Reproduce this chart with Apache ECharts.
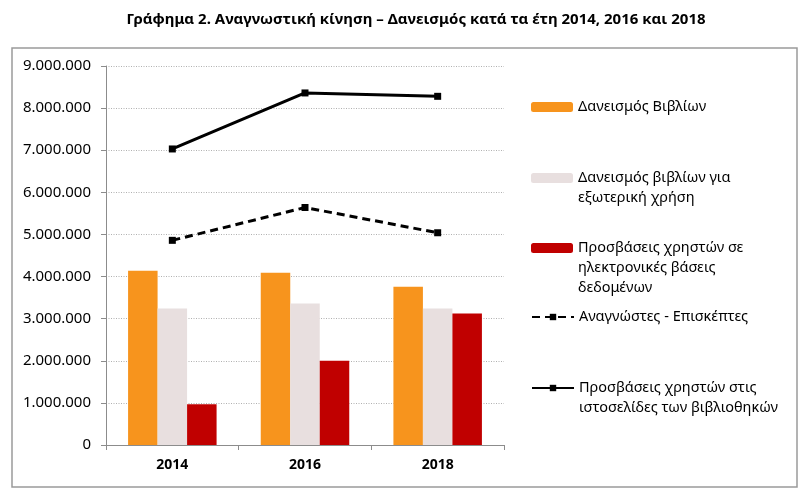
<!DOCTYPE html>
<html>
<head>
<meta charset="utf-8">
<script src="https://cdn.jsdelivr.net/npm/echarts@6/dist/echarts.min.js"></script>
<style>
  html,body{margin:0;padding:0;background:#fff;}
  #chart{width:804px;height:504px;}
</style>
</head>
<body>
<div id="chart"></div>
<script>
  // data
  var years=['2014','2016','2018']
  var loans=[4140000,4090000,3760000]
  var loansOut=[3240000,3360000,3240000]
  var dbAccess=[970000,2000000,3120000]
  var visitors=[4860000,5640000,5040000]
  var webAccess=[7030000,8360000,8280000]

  var names=[
    'Δανεισμός Βιβλίων',
    'Δανεισμός βιβλίων για',
    'Προσβάσεις χρηστών σε',
    'Αναγνώστες - Επισκέπτες',
    'Προσβάσεις χρηστών στις'
  ]
  // continuation lines of the legend texts
  var moreText=[
    '',
    'εξωτερική χρήση',
    'ηλεκτρονικές βάσεις\nδεδομένων',
    '',
    'ιστοσελίδες των βιβλιοθηκών'
  ]
  var legendTops=[97,168,238,307,378]

  var font='"Noto Sans", sans-serif'

  var fmt=function (v) {
    return String(v).replace(/\B(?=(\d{3})+(?!\d))/g,'.')
  }

  var legendText={fontFamily:font,fontSize:14.5,color:'#000',lineHeight:20}

  var legends=[]
  names.forEach(function (n,i) {
    legends.push({
      data:[n],
      left:531,
      top:legendTops[i],
      itemWidth:42,
      itemHeight:i<3?10:8,
      padding:0,
      selectedMode:false,
      textStyle:legendText
    })
    if(moreText[i]){
      legends.push({
        data:[n],
        left:531,
        top:legendTops[i]+20,
        itemWidth:42,
        itemHeight:8,
        padding:0,
        selectedMode:false,
        itemStyle:{opacity:0},
        lineStyle:{opacity:0},
        formatter:function () { return moreText[i] },
        textStyle:legendText
      })
    }
  })

  var chart=echarts.init(document.getElementById('chart'))
  var option={
    animation:false,
    title:{
      text:'Γράφημα 2. Αναγνωστική κίνηση – Δανεισμός κατά τα έτη 2014, 2016 και 2018',
      left:411,
      textAlign:'center',
      top:7,
      textStyle:{fontFamily:font,fontSize:15,fontWeight:'bold',color:'#000'}
    },
    graphic:[{
      type:'rect',
      shape:{x:12,y:48,width:785,height:439},
      style:{fill:'none',stroke:'#9a9a9a',lineWidth:1.5},
      silent:true,
      z:-1
    }],
    legend:legends,
    grid:{left:106,right:300,top:66,bottom:59},
    xAxis:{
      type:'category',
      data:years,
      axisLine:{lineStyle:{color:'#8c8c8c'}},
      axisTick:{show:true,length:5,lineStyle:{color:'#8c8c8c'}},
      axisLabel:{fontFamily:font,fontSize:14,fontWeight:'bold',color:'#000',margin:13}
    },
    yAxis:{
      type:'value',
      min:0,
      max:9000000,
      interval:1000000,
      axisLine:{show:true,lineStyle:{color:'#8c8c8c'}},
      axisTick:{show:true,length:5,lineStyle:{color:'#8c8c8c'}},
      splitLine:{lineStyle:{color:'#b0b0b0',type:[1,1.5]}},
      axisLabel:{fontFamily:font,fontSize:15,color:'#000',margin:15,formatter:fmt}
    },
    series:[
      {name:names[0],type:'bar',data:loans,barWidth:29.5,barGap:'0%',itemStyle:{color:'#f7941d'}},
      {name:names[1],type:'bar',data:loansOut,barWidth:29.5,barGap:'0%',itemStyle:{color:'#e8dfdf'}},
      {name:names[2],type:'bar',data:dbAccess,barWidth:29.5,barGap:'0%',itemStyle:{color:'#c00000'}},
      {name:names[3],type:'line',data:visitors,symbol:'rect',symbolSize:7,
        lineStyle:{color:'#000',width:3,type:[8,5]},itemStyle:{color:'#000'}},
      {name:names[4],type:'line',data:webAccess,symbol:'rect',symbolSize:7,
        lineStyle:{color:'#000',width:3},itemStyle:{color:'#000'}}
    ]
  }
  chart.setOption(option)
</script>
</body>
</html>
